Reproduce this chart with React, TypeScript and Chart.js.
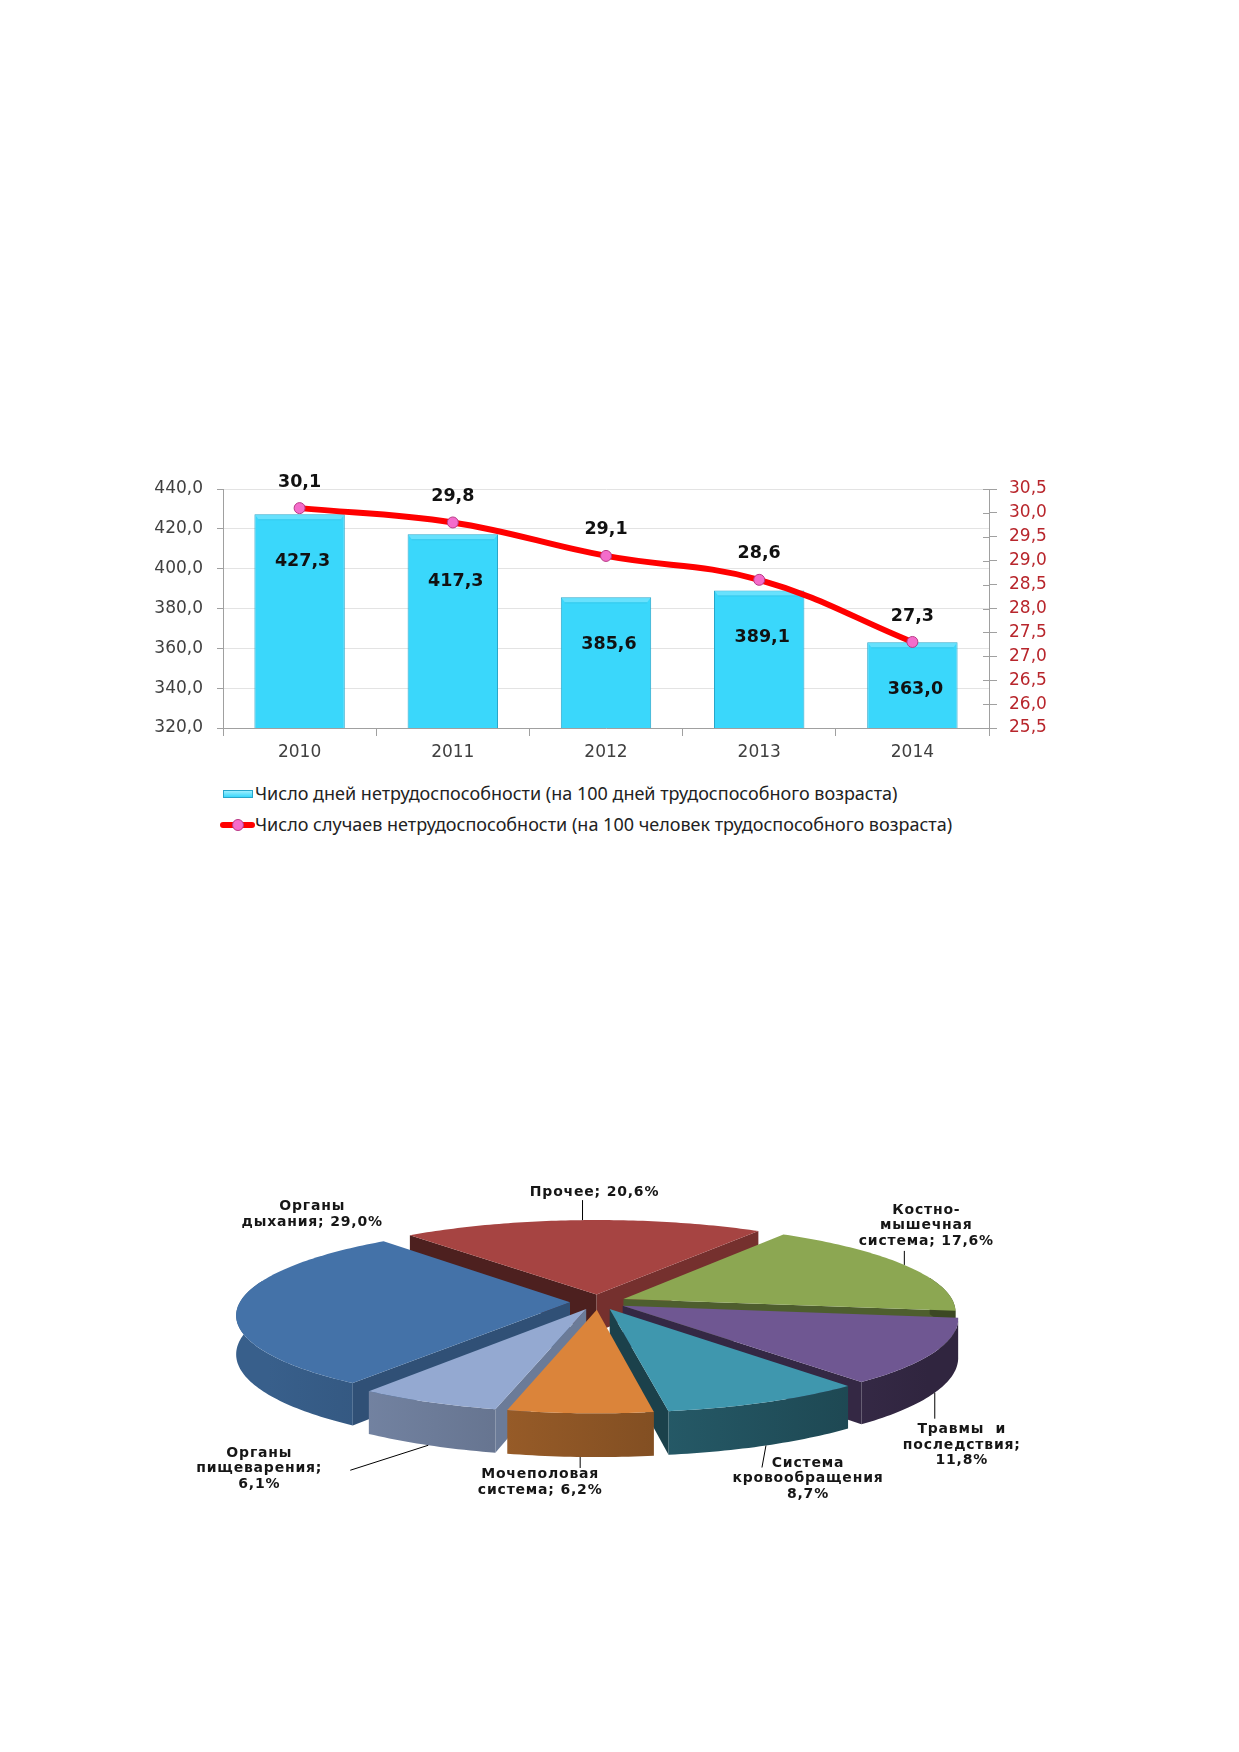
import { useEffect, useRef } from "react";
import { Chart, registerables } from "chart.js";

Chart.register(...registerables);

// --- данные: столбики и линия ---
const YEARS = ["2010", "2011", "2012", "2013", "2014"];
const DAYS = [427.3, 417.3, 385.6, 389.1, 363.0];
const CASES = [30.1, 29.8, 29.1, 28.6, 27.3];
const DAYS_TICKS = [320, 340, 360, 380, 400, 420, 440];
const CASES_TICKS = [25.5, 26, 26.5, 27, 27.5, 28, 28.5, 29, 29.5, 30, 30.5];
const DAYS_LABEL = "Число дней нетрудоспособности (на 100 дней трудоспособного возраста)";
const CASES_LABEL = "Число случаев нетрудоспособности (на 100 человек трудоспособного возраста)";

// --- данные: круговая диаграмма ---
const CAUSES = [
  "Прочее",
  "Костно-\nмышечная\nсистема",
  "Травмы  и\nпоследствия",
  "Система\nкровообращения",
  "Мочеполовая\nсистема",
  "Органы\nпищеварения",
  "Органы\nдыхания",
];
const SHARES = [20.6, 17.6, 11.8, 8.7, 6.2, 6.1, 29.0];
const CAUSE_COLORS = ["#A64442", "#8CA752", "#6F5792", "#3F97AE", "#DB843A", "#94A9D1", "#4472A8"];

// раскладка подписей секторов (не данные)
type LabelSpot = {
  edge: "top" | "bottom" | "none";
  sep: string;
  line: [number, number] | null;
  text: [number, number];
  from: "top" | "bottom";
};
const LABEL_SPOTS: LabelSpot[] = [
  { edge: "top", sep: "; ", line: [0, -20], text: [12, -20], from: "bottom" },
  { edge: "top", sep: "; ", line: [0, -14], text: [22, -16], from: "bottom" },
  { edge: "bottom", sep: ";\n", line: [0, 26], text: [27, 29], from: "top" },
  { edge: "bottom", sep: "\n", line: [-4, 22], text: [42, 10], from: "top" },
  { edge: "bottom", sep: "; ", line: [0, 11], text: [-40, 10], from: "top" },
  { edge: "bottom", sep: ";\n", line: [-78, 25], text: [-169, 0], from: "top" },
  { edge: "none", sep: "; ", line: null, text: [74, -107], from: "top" },
];

const TILT = 0.27; // сжатие по вертикали
const PERSP = 0.14; // перспектива: дальний край меньше
const DEPTH = 38;
const EXPLODE = 28;
const PIE_RADIUS = 330;

const fmt = (v: number) => v.toFixed(1).replace(".", ",");

const shade = (hex: string, f: number) => {
  const n = parseInt(hex.slice(1), 16);
  const r = Math.min(255, Math.round(((n >> 16) & 255) * f));
  const g = Math.min(255, Math.round(((n >> 8) & 255) * f));
  const b = Math.min(255, Math.round((n & 255) * f));
  return `rgb(${r},${g},${b})`;
};

const TICK_FONT = { family: "DejaVu Sans, Verdana, sans-serif", size: 17 };

function DaysChart() {
  const chartRef = useRef<HTMLCanvasElement>(null);

  useEffect(() => {
    if (!chartRef.current) return;

    // фаска сверху столбиков
    const bevelPlugin = {
      id: "bevel",
      afterDatasetDraw(chart: any, args: any) {
        if (args.index !== 0) return;
        const { ctx } = chart;
        chart.getDatasetMeta(0).data.forEach((bar: any) => {
          const { x, y, width } = bar.getProps(["x", "y", "width"], true);
          const left = x - width / 2;
          ctx.save();
          ctx.fillStyle = "#68E1FD";
          ctx.beginPath();
          ctx.moveTo(left + 1, y + 1);
          ctx.lineTo(left + width - 1, y + 1);
          ctx.lineTo(left + width - 4, y + 5);
          ctx.lineTo(left + 4, y + 5);
          ctx.closePath();
          ctx.fill();
          ctx.fillStyle = "rgba(40,170,205,0.3)";
          ctx.fillRect(left + 4, y + 5, width - 8, 1);
          ctx.restore();
        });
      },
    };

    const labelsPlugin = {
      id: "valueLabels",
      afterDatasetsDraw(chart: any) {
        const { ctx } = chart;
        ctx.save();
        ctx.font = "bold 17.5px 'DejaVu Sans', Verdana, sans-serif";
        ctx.fillStyle = "#111";
        ctx.textAlign = "center";
        ctx.textBaseline = "middle";
        chart.getDatasetMeta(0).data.forEach((bar: any, i: number) => {
          ctx.fillText(fmt(DAYS[i]), bar.x + 3, bar.y + 47);
        });
        chart.getDatasetMeta(1).data.forEach((pt: any, i: number) => {
          ctx.fillText(fmt(CASES[i]), pt.x, pt.y - 26);
        });
        // засечки правой оси внутрь
        const y1 = chart.scales.y1;
        ctx.strokeStyle = "#A0A0A0";
        ctx.lineWidth = 1;
        y1.ticks.forEach((t: any) => {
          const py = Math.round(y1.getPixelForValue(t.value)) + 0.5;
          ctx.beginPath();
          ctx.moveTo(y1.left - 6, py);
          ctx.lineTo(y1.left, py);
          ctx.stroke();
        });
        ctx.restore();
      },
    };

    const chart = new Chart(chartRef.current, {
      type: "bar",
      data: {
        labels: YEARS,
        datasets: [
          {
            type: "bar",
            label: DAYS_LABEL,
            data: DAYS,
            yAxisID: "y",
            backgroundColor: "#3AD7FB",
            borderColor: "#27A6CA",
            borderWidth: 1,
            categoryPercentage: 0.59,
            barPercentage: 1,
            order: 2,
          },
          {
            type: "line",
            label: CASES_LABEL,
            data: CASES,
            yAxisID: "y1",
            borderColor: "#FF0000",
            borderWidth: 6,
            tension: 0.4,
            pointRadius: 5.5,
            pointBackgroundColor: "#F46CCB",
            pointBorderColor: "#B83A86",
            pointBorderWidth: 1,
            order: 1,
          },
        ] as any,
      },
      options: {
        animation: false,
        responsive: true,
        maintainAspectRatio: false,
        events: [],
        layout: { padding: { top: 49, left: 0, right: 0, bottom: 0 } },
        plugins: { legend: { display: false }, tooltip: { enabled: false } },
        scales: {
          x: {
            grid: {
              display: true,
              drawOnChartArea: false,
              drawTicks: true,
              tickLength: 8,
              color: "#A0A0A0",
              offset: true,
            },
            border: { color: "#A0A0A0" },
            ticks: { color: "#404040", font: TICK_FONT, padding: 6 },
            afterFit: (s: any) => {
              s.height = 42;
            },
          },
          y: {
            position: "left",
            min: 320,
            max: 440,
            afterBuildTicks: (s: any) => {
              s.ticks = DAYS_TICKS.map((v) => ({ value: v }));
            },
            ticks: { color: "#404040", font: TICK_FONT, padding: 14, callback: (v: any) => fmt(Number(v)) },
            grid: { color: "#E3E3E3", tickLength: 6, tickColor: "#A0A0A0" },
            border: { color: "#A0A0A0" },
            afterFit: (s: any) => {
              s.width = 123;
            },
          },
          y1: {
            position: "right",
            min: 25.5,
            max: 30.5,
            afterBuildTicks: (s: any) => {
              s.ticks = CASES_TICKS.map((v) => ({ value: v }));
            },
            ticks: { color: "#B8262C", font: TICK_FONT, padding: 12, callback: (v: any) => fmt(Number(v)) },
            grid: { drawOnChartArea: false, tickLength: 8, color: "#A0A0A0" },
            border: { color: "#A0A0A0" },
            afterFit: (s: any) => {
              s.width = 111;
            },
          },
        },
      } as any,
      plugins: [bevelPlugin, labelsPlugin],
    });

    return () => chart.destroy();
  }, []);

  return <canvas ref={chartRef}></canvas>;
}

function CausesPie() {
  const chartRef = useRef<HTMLCanvasElement>(null);

  useEffect(() => {
    if (!chartRef.current) return;

    // объёмная разрезанная круговая диаграмма с перспективой
    const pie3d = {
      id: "pie3d",
      beforeDatasetsDraw(chart: any) {
        const { ctx } = chart;
        const arcs = chart.getDatasetMeta(0).data as any[];
        if (!arcs.length) return false;
        const cx = arcs[0].x;
        const cy = arcs[0].y;
        const R = arcs[0].outerRadius;
        const STEP = Math.PI / 180;
        const SLACK = 0.25; // стенка чуть шире видимой части, прячется под верхом

        const project = (u: number, v: number, h: number) => {
          const s = 1 + (PERSP * v) / R;
          return [cx + u * s, cy + (v * TILT + h) * s];
        };
        const mid = (a: any) => (a.startAngle + a.endAngle) / 2;
        const shift = (a: any) => [Math.cos(mid(a)) * EXPLODE, Math.sin(mid(a)) * EXPLODE];

        const rimPath = (ex: number, ey: number, r: number, a0: number, a1: number, h: number, first: boolean) => {
          const n = Math.max(2, Math.ceil(Math.abs(a1 - a0) / STEP));
          for (let k = 0; k <= n; k++) {
            const t = a0 + ((a1 - a0) * k) / n;
            const [px, py] = project(ex + r * Math.cos(t), ey + r * Math.sin(t), h);
            if (first && k === 0) ctx.moveTo(px, py);
            else ctx.lineTo(px, py);
          }
        };

        const order = arcs.map((_, i) => i).sort((i, j) => Math.sin(mid(arcs[i])) - Math.sin(mid(arcs[j])));

        ctx.save();
        // боковые стенки
        order.forEach((i) => {
          const a = arcs[i];
          const [ex, ey] = shift(a);
          const r = a.outerRadius;
          const base = CAUSE_COLORS[i];
          const s = a.startAngle;
          const e = a.endAngle;

          const face = (ang: number, nx: number) => {
            const ru = ex + r * Math.cos(ang);
            const rv = ey + r * Math.sin(ang);
            const p1 = project(ex, ey, 0);
            const p2 = project(ru, rv, 0);
            const p3 = project(ru, rv, DEPTH);
            const p4 = project(ex, ey, DEPTH);
            ctx.beginPath();
            ctx.moveTo(p1[0], p1[1]);
            ctx.lineTo(p2[0], p2[1]);
            ctx.lineTo(p3[0], p3[1]);
            ctx.lineTo(p4[0], p4[1]);
            ctx.closePath();
            ctx.fillStyle = shade(base, 0.58 + 0.15 * nx);
            ctx.fill();
          };
          if (Math.cos(s) < 0) face(s, Math.sin(s));
          if (Math.cos(e) > 0) face(e, -Math.sin(e));

          [-2 * Math.PI, 0, 2 * Math.PI].forEach((k) => {
            const lo = Math.max(s, k - SLACK);
            const hi = Math.min(e, k + Math.PI + SLACK);
            if (hi <= lo) return;
            const grad = ctx.createLinearGradient(cx - R, 0, cx + R, 0);
            grad.addColorStop(0, shade(base, 0.83));
            grad.addColorStop(1, shade(base, 0.43));
            ctx.beginPath();
            rimPath(ex, ey, r, lo, hi, 0, true);
            rimPath(ex, ey, r, hi, lo, DEPTH, false);
            ctx.closePath();
            ctx.fillStyle = grad;
            ctx.fill();
          });
        });

        // верхние грани
        arcs.forEach((a, i) => {
          const [ex, ey] = shift(a);
          const apex = project(ex, ey, 0);
          ctx.beginPath();
          ctx.moveTo(apex[0], apex[1]);
          rimPath(ex, ey, a.outerRadius, a.startAngle, a.endAngle, 0, false);
          ctx.closePath();
          ctx.fillStyle = CAUSE_COLORS[i];
          ctx.fill();
        });
        ctx.restore();

        // подписи и выноски
        ctx.save();
        ctx.font = "bold 14px 'DejaVu Sans', Verdana, sans-serif";
        (ctx as any).letterSpacing = "0.8px";
        ctx.fillStyle = "#161616";
        ctx.strokeStyle = "#000";
        ctx.lineWidth = 1;
        ctx.textAlign = "center";
        ctx.textBaseline = "middle";
        const LH = 15.5;
        arcs.forEach((a, i) => {
          const spot = LABEL_SPOTS[i];
          const [ex, ey] = shift(a);
          const m = mid(a);
          const r = a.outerRadius;
          const [ax, ay] = project(
            ex + r * Math.cos(m),
            ey + r * Math.sin(m),
            spot.edge === "bottom" ? DEPTH : 0
          );
          if (spot.line) {
            ctx.beginPath();
            ctx.moveTo(ax, ay);
            ctx.lineTo(ax + spot.line[0], ay + spot.line[1]);
            ctx.stroke();
          }
          const lines = (CAUSES[i] + spot.sep + fmt(SHARES[i]) + "%").split("\n");
          const tx = ax + spot.text[0];
          const ty = ay + spot.text[1];
          lines.forEach((ln, k) => {
            const y =
              spot.from === "top" ? ty + k * LH + LH / 2 : ty - (lines.length - 1 - k) * LH - LH / 2;
            ctx.fillText(ln, tx, y);
          });
        });
        ctx.restore();
        return false;
      },
    };

    const chart = new Chart(chartRef.current, {
      type: "pie",
      data: {
        labels: CAUSES,
        datasets: [
          {
            data: SHARES,
            backgroundColor: CAUSE_COLORS,
            borderWidth: 0,
            radius: PIE_RADIUS,
            clip: false,
          } as any,
        ],
      },
      options: {
        animation: false,
        responsive: true,
        maintainAspectRatio: false,
        events: [],
        rotation: -40,
        layout: { padding: 0 },
        plugins: { legend: { display: false }, tooltip: { enabled: false } },
      } as any,
      plugins: [pie3d],
    });

    return () => chart.destroy();
  }, []);

  return <canvas ref={chartRef}></canvas>;
}

const legendText: React.CSSProperties = {
  position: "absolute",
  left: 255,
  height: 24,
  lineHeight: "24px",
  whiteSpace: "nowrap",
  fontFamily: "'Noto Sans', sans-serif",
  fontSize: 18,
  color: "#222",
};

export default function App() {
  return (
    <div style={{ position: "absolute", left: 0, top: 0, width: 1239, height: 1752, background: "#fff" }}>
      <div style={{ position: "absolute", left: 100, top: 440, width: 1000, height: 330 }}>
        <DaysChart />
      </div>

      {/* легенда */}
      <div
        style={{
          position: "absolute",
          left: 223,
          top: 790,
          width: 28,
          height: 6,
          background: "linear-gradient(#9CEEFF, #3AD7FB)",
          border: "1px solid #27A6CA",
        }}
      ></div>
      <div style={{ ...legendText, top: 781 }}>{DAYS_LABEL}</div>
      <div
        style={{
          position: "absolute",
          left: 220,
          top: 822,
          width: 35,
          height: 6,
          borderRadius: 3,
          background: "#FF0000",
        }}
      ></div>
      <div
        style={{
          position: "absolute",
          left: 232,
          top: 819,
          width: 12,
          height: 12,
          borderRadius: "50%",
          background: "#F46CCB",
          border: "1px solid #B83A86",
          boxSizing: "border-box",
        }}
      ></div>
      <div style={{ ...legendText, top: 812 }}>{CASES_LABEL}</div>

      <div style={{ position: "absolute", left: 150, top: 1092, width: 896, height: 420 }}>
        <CausesPie />
      </div>
    </div>
  );
}
